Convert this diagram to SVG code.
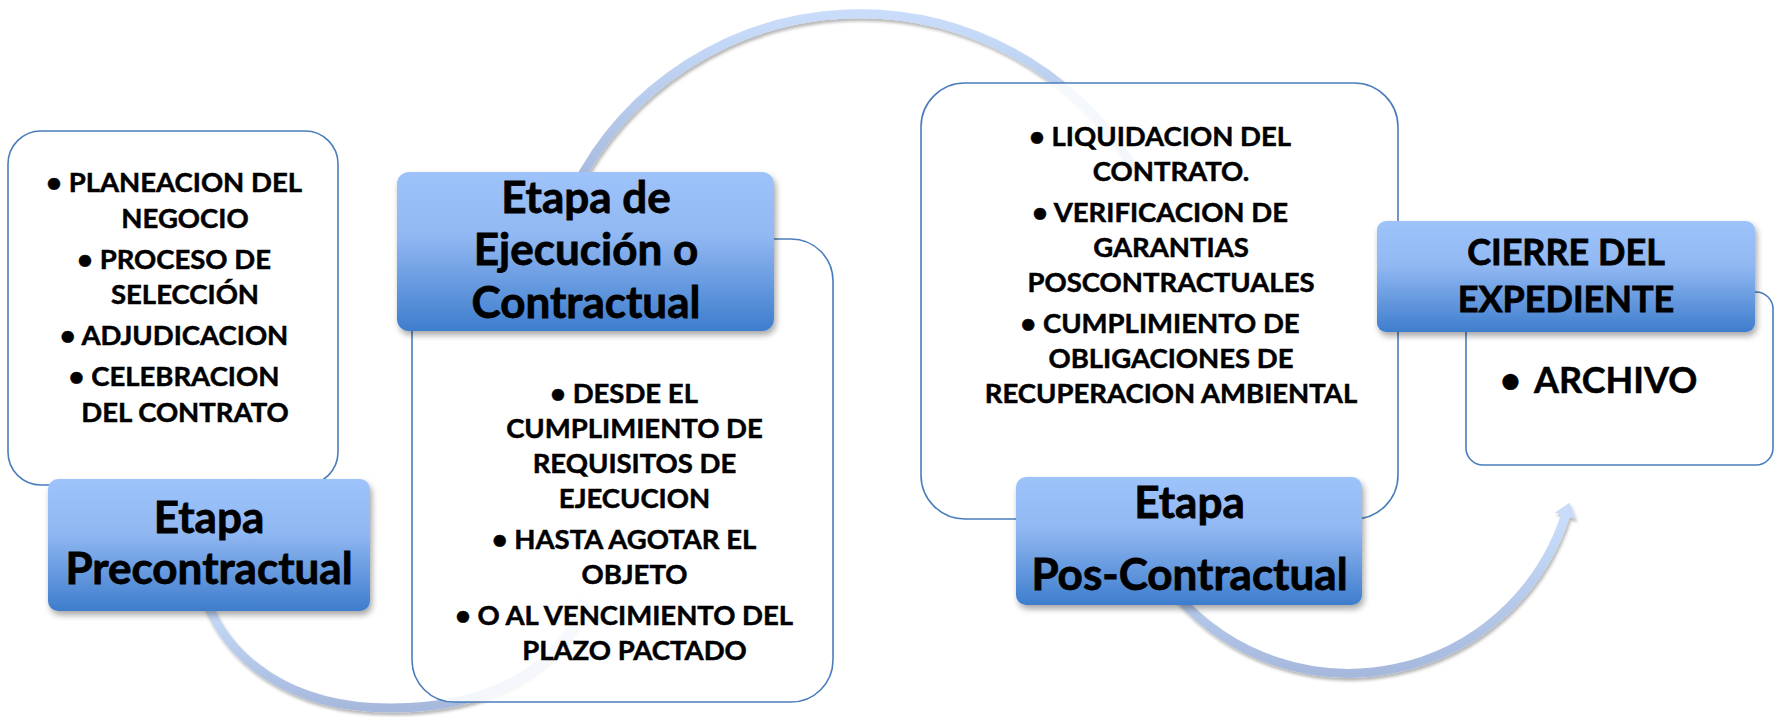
<svg xmlns="http://www.w3.org/2000/svg" width="1778" height="717" viewBox="0 0 1778 717">
<style>
.box{fill:#fff;fill-opacity:.86;stroke:#4a7ebb;stroke-width:1.6}
.hdr{fill:url(#hg);filter:url(#hs)}
.ht{font-family:Lato,"Open Sans","Liberation Sans",sans-serif;font-weight:700;font-size:44px;fill:#000;stroke:#000;stroke-width:0.8;text-anchor:middle}
.bt{font-family:Lato,"Open Sans","Liberation Sans",sans-serif;font-weight:700;font-size:27.5px;fill:#000;stroke:#000;stroke-width:0.5;text-anchor:middle}
.ht.h4,.bt.h4{font-size:36px}
.arc{fill:none;stroke:url(#ag);stroke-width:9;filter:url(#as)}
</style>
<defs>
<linearGradient id="hg" x1="0" y1="0" x2="0" y2="1">
<stop offset="0" stop-color="#9ec3fb"/>
<stop offset="0.4" stop-color="#91b8f2"/>
<stop offset="1" stop-color="#3e7dcd"/>
</linearGradient>
<linearGradient id="ag" x1="0" y1="0" x2="0" y2="1">
<stop offset="0" stop-color="#c9ddfb"/>
<stop offset="1" stop-color="#a6b9dd"/>
</linearGradient>
<filter id="hs" x="-10%" y="-10%" width="125%" height="135%">
<feDropShadow dx="2" dy="4" stdDeviation="3" flood-color="#000" flood-opacity="0.35"/>
</filter>
<filter id="as" x="-10%" y="-20%" width="120%" height="150%">
<feDropShadow dx="1.5" dy="3" stdDeviation="1.5" flood-color="#000" flood-opacity="0.28"/>
</filter>
<marker id="ah" markerUnits="userSpaceOnUse" viewBox="0 0 14 22" refX="0.5" refY="11" markerWidth="14" markerHeight="22" orient="auto">
<path d="M0 0 L14 11 L0 22 Z" fill="#c8dbf9"/>
</marker>
</defs>

<g id="connectors">
<path class="arc" d="M205 598 C228 660 290 708 390 708 C490 708 560 670 585 600"/>
<path class="arc" d="M574 190 A320 320 0 0 1 1133 167"/>
<path class="arc" d="M1176.5 595 A228 228 0 0 0 1565.4 515.5" marker-end="url(#ah)"/>
</g>

<g id="node-precontractual">
<rect class="box" x="8" y="131" width="330" height="354" rx="33"/>
<text class="bt" x="174" y="192">• PLANEACION DEL</text>
<text class="bt" x="185" y="227.5">NEGOCIO</text>
<text class="bt" x="174" y="268.5">• PROCESO DE</text>
<text class="bt" x="185" y="304">SELECCIÓN</text>
<text class="bt" x="174" y="345">• ADJUDICACION</text>
<text class="bt" x="174" y="386">• CELEBRACION</text>
<text class="bt" x="185" y="421.5">DEL CONTRATO</text>
<rect class="hdr" x="48" y="479" width="322" height="132" rx="10"/>
<text class="ht" x="209" y="533">Etapa</text>
<text class="ht" x="209" y="584">Precontractual</text>
</g>

<g id="node-contractual">
<rect class="box" x="412" y="239" width="421" height="463" rx="42"/>
<text class="bt" x="624" y="403">• DESDE EL</text>
<text class="bt" x="634.5" y="438">CUMPLIMIENTO DE</text>
<text class="bt" x="634.5" y="473">REQUISITOS DE</text>
<text class="bt" x="634.5" y="508">EJECUCION</text>
<text class="bt" x="624" y="549">• HASTA AGOTAR EL</text>
<text class="bt" x="634.5" y="584">OBJETO</text>
<text class="bt" x="624" y="625">• O AL VENCIMIENTO DEL</text>
<text class="bt" x="634.5" y="660">PLAZO PACTADO</text>
<rect class="hdr" x="397" y="172" width="377" height="159" rx="12"/>
<text class="ht" x="586" y="212.5">Etapa de</text>
<text class="ht" x="586" y="265">Ejecución o</text>
<text class="ht" x="586" y="317.5">Contractual</text>
</g>

<g id="node-poscontractual">
<rect class="box" x="921" y="83" width="477" height="436" rx="44"/>
<text class="bt" x="1160" y="146">• LIQUIDACION DEL</text>
<text class="bt" x="1171" y="181">CONTRATO.</text>
<text class="bt" x="1160" y="222">• VERIFICACION DE</text>
<text class="bt" x="1171" y="257">GARANTIAS</text>
<text class="bt" x="1171" y="292">POSCONTRACTUALES</text>
<text class="bt" x="1160" y="333">• CUMPLIMIENTO DE</text>
<text class="bt" x="1171" y="368">OBLIGACIONES DE</text>
<text class="bt" x="1171" y="403">RECUPERACION AMBIENTAL</text>
<rect class="hdr" x="1016" y="477" width="346" height="128" rx="10"/>
<text class="ht" x="1189.5" y="518">Etapa</text>
<text class="ht" x="1189.5" y="589.5">Pos-Contractual</text>
</g>

<g id="node-cierre">
<rect class="box" x="1466" y="292" width="307" height="173" rx="17"/>
<text class="bt h4" x="1500" y="393" style="text-anchor:start">•<tspan x="1534">ARCHIVO</tspan></text>
<rect class="hdr" x="1377" y="221" width="378" height="111" rx="9"/>
<text class="ht h4" x="1566" y="265">CIERRE DEL</text>
<text class="ht h4" x="1566" y="311.5">EXPEDIENTE</text>
</g>
</svg>
